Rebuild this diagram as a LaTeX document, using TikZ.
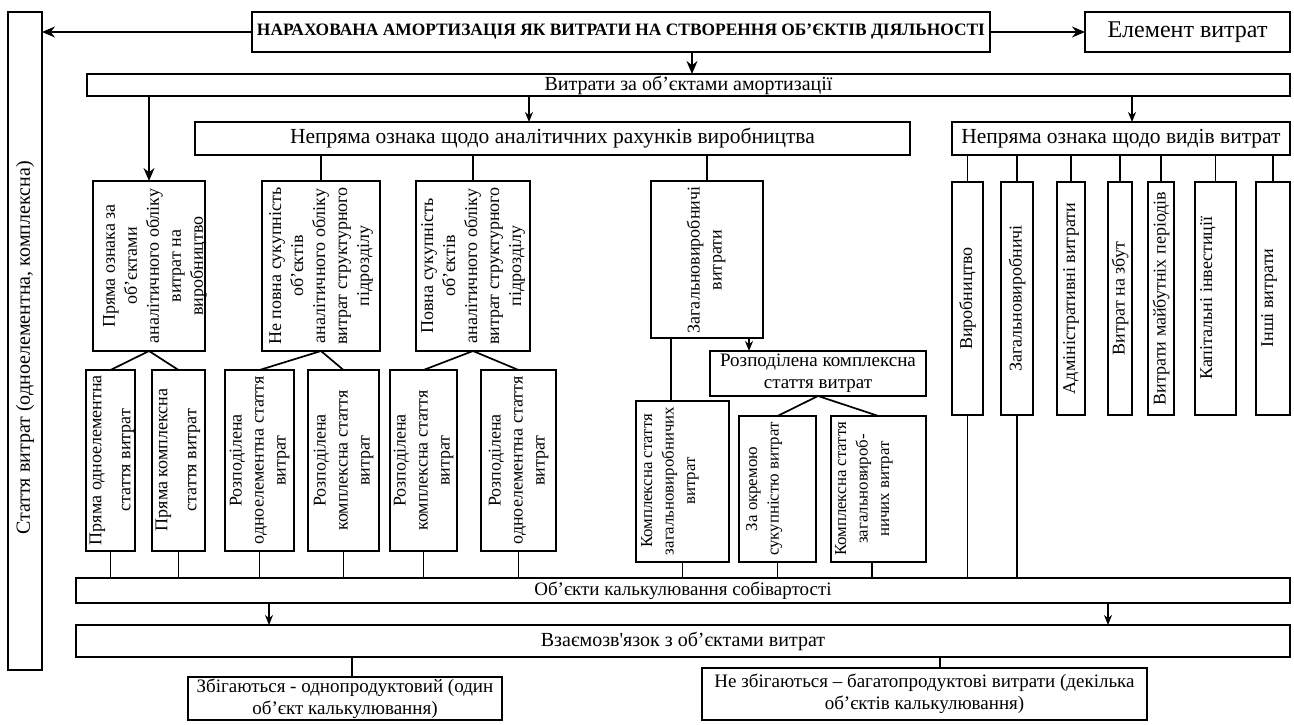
\documentclass[tikz,border=0pt]{standalone}
\usepackage{fontspec}
\newfontfamily\tnr{Liberation Serif}
\usetikzlibrary{arrows.meta}
\begin{document}
\begin{tikzpicture}[x=1pt,y=-1pt,
  box/.style={draw, line width=1.7pt, inner sep=0pt, outer sep=0pt, align=center, font=\tnr\fontsize{19}{22}\selectfont},
  bb/.style n args={4}{minimum width={#3-#1}, minimum height={#4-#2}, at={({(#1+#3)/2},{(#2+#4)/2})}},
  rtext/.style={rotate=90, inner sep=0pt, align=center, font=\tnr\fontsize{18}{22}\selectfont},
  ktext/.style={rtext, font=\tnr\fontsize{16.8}{21.5}\selectfont},
  conn/.style={line width=1.7pt},
  arr/.style={conn, -{Stealth[length=13pt,width=11pt]}},
  sarr/.style={conn, -{Stealth[length=10pt,width=8pt]}},
]
\useasboundingbox (0,0) rectangle (1294,724);
% --- top level
\node[box, bb={8}{12}{42}{670}] (stat) {};
\node[rtext, font=\tnr\fontsize{20}{22}\selectfont] (statt) at (25,348) {Стаття витрат (одноелементна, комплексна)};
\node[box, bb={252}{12}{990}{52}, font=\tnr\bfseries\fontsize{17.4}{20}\selectfont] (top) {НАРАХОВАНА АМОРТИЗАЦІЯ ЯК ВИТРАТИ НА СТВОРЕННЯ ОБ’ЄКТІВ ДІЯЛЬНОСТІ};
\node[box, bb={1085}{12}{1290}{52}, font=\tnr\fontsize{24}{26}\selectfont] (elem) {Елемент витрат};
\node[box, bb={87}{74}{1290}{96}, font=\tnr\fontsize{20}{22}\selectfont] (vytr) {Витрати за об’єктами амортизації};
\node[box, bb={195}{122}{910}{155}, font=\tnr\fontsize{21.5}{24}\selectfont] (nepr1) {Непряма ознака щодо аналітичних рахунків виробництва};
\node[box, bb={952}{122}{1290}{155}, font=\tnr\fontsize{21.5}{24}\selectfont] (nepr2) {Непряма ознака щодо видів витрат};
% --- second level (left part)
\node[box, bb={93}{181}{205}{351}] (pryama) {};
\node[rtext] (tpryama) at (155,266) {Пряма ознака за\\об’єктами\\аналітичного обліку\\витрат на\\виробництво};
\node[box, bb={262}{181}{380}{351}] (npovna) {};
\node[rtext] (tnpovna) at (npovna.center) {Не повна сукупність\\об’єктів\\аналітичного обліку\\витрат структурного\\підрозділу};
\node[box, bb={416}{181}{530}{351}] (povna) {};
\node[rtext] (tpovna) at (povna.center) {Повна сукупність\\об’єктів\\аналітичного обліку\\витрат структурного\\підрозділу};
\node[box, bb={651}{181}{763}{338}] (zag) {};
\node[rtext] (tzag) at (706,260) {Загальновиробничі\\витрати};
% --- third level
\node[box, bb={86}{370}{135}{551}] (s1) {};
\node[rtext] (ts1) at (112,460) {Пряма одноелементна\\[7pt]стаття витрат};
\node[box, bb={152}{370}{205}{551}] (s2) {};
\node[rtext] (ts2) at (178,460) {Пряма комплексна\\[7pt]стаття витрат};
\node[box, bb={225}{370}{294}{551}] (s3) {};
\node[rtext] (ts3) at (s3.center) {Розподілена\\одноелементна стаття\\витрат};
\node[box, bb={308}{370}{379}{551}] (s4) {};
\node[rtext] (ts4) at (s4.center) {Розподілена\\комплексна стаття\\витрат};
\node[box, bb={390}{370}{457}{551}] (s5) {};
\node[rtext] (ts5) at (s5.center) {Розподілена\\комплексна стаття\\витрат};
\node[box, bb={481}{370}{556}{551}] (s6) {};
\node[rtext] (ts6) at (s6.center) {Розподілена\\одноелементна стаття\\витрат};
\node[box, bb={710}{351}{926}{396}] (rozp) {Розподілена комплексна\\стаття витрат};
\node[box, bb={636}{401}{729}{562}] (k1) {};
\node[ktext] (tk1) at (670,481) {Комплексна стаття\\загальновиробничих\\витрат};
\node[box, bb={739}{416}{816}{562}] (k2) {};
\node[ktext] (tk2) at (764,489) {За окремою\\сукупністю витрат};
\node[box, bb={831}{416}{926}{562}] (k3) {};
\node[ktext] (tk3) at (864,489) {Комплексна стаття\\загальновироб-\\ничих витрат};
% --- right column
\node[box, bb={952}{182}{983}{415}] (r1) {};
\node[rtext] (tr1) at (r1.center) {Виробництво};
\node[box, bb={1001}{182}{1033}{415}] (r2) {};
\node[rtext] (tr2) at (r2.center) {Загальновиробничі};
\node[box, bb={1057}{182}{1085}{415}] (r3) {};
\node[rtext] (tr3) at (r3.center) {Адміністративні витрати};
\node[box, bb={1108}{182}{1132}{415}] (r4) {};
\node[rtext] (tr4) at (r4.center) {Витрат на збут};
\node[box, bb={1148}{182}{1174}{415}] (r5) {};
\node[rtext] (tr5) at (r5.center) {Витрати майбутніх періодів};
\node[box, bb={1195}{182}{1236}{415}] (r6) {};
\node[rtext] (tr6) at (1208,298) {Капітальні інвестиції};
\node[box, bb={1256}{182}{1290}{415}] (r7) {};
\node[rtext] (tr7) at (1269,298) {Інші витрати};
% --- bottom
\node[box, bb={76}{578}{1290}{603}] (obj) {Об’єкти калькулювання собівартості};
\node[box, bb={76}{625}{1290}{657}, font=\tnr\fontsize{20}{22}\selectfont] (vzaem) {Взаємозв'язок з об’єктами витрат};
\node[box, bb={188}{677}{502}{720}] (zb) {Збігаються - однопродуктовий (один\\об’єкт калькулювання)};
\node[box, bb={702}{668}{1147}{720}] (nzb) {Не збігаються – багатопродуктові витрати (декілька\\об’єктів калькулювання)};
% --- helper x positions
\coordinate (a1) at (692,0);
\coordinate (a2) at (529,0);
\coordinate (a3) at (1132,0);
\coordinate (a4) at (671,0);
\coordinate (a5) at (749,0);
\coordinate (a6) at (872,0);
\coordinate (a7) at (269,0);
\coordinate (a8) at (1108,0);
\coordinate (a9) at (352,0);
\coordinate (a10) at (940,0);
% --- connectors
\draw[arr] (top.west) -- (top.west -| stat.east);
\draw[arr] (top.east) -- (elem.west);
\draw[arr] (top.south -| a1) -- (vytr.north -| a1);
\draw[arr] (vytr.south -| pryama.north) -- (pryama.north);
\draw[sarr] (vytr.south -| a2) -- (nepr1.north -| a2);
\draw[sarr] (vytr.south -| a3) -- (nepr2.north -| a3);
\foreach \n in {npovna,povna,zag}
  \draw[conn] (nepr1.south -| \n.north) -- (\n.north);
\foreach \n in {r1,r2,r3,r4,r5,r6,r7}
  \draw[conn] (nepr2.south -| \n.north) -- (\n.north);
\draw[conn] (pryama.south) -- (s1.north);
\draw[conn] (pryama.south) -- (s2.north);
\draw[conn] (npovna.south) -- (s3.north);
\draw[conn] (npovna.south) -- (s4.north);
\draw[conn] (povna.south) -- (s5.north);
\draw[conn] (povna.south) -- (s6.north);
\draw[conn] (zag.south -| a4) -- (k1.north -| a4);
\draw[sarr] (zag.south -| a5) -- (rozp.north -| a5);
\draw[conn] (rozp.south) -- (k2.north);
\draw[conn] (rozp.south) -- (k3.north);
\foreach \n in {s1,s2,s3,s4,s5,s6,k1,k2,r1,r2}
  \draw[conn] (\n.south) -- (\n.south |- obj.north);
\draw[conn] (k3.south -| a6) -- (obj.north -| a6);
\draw[sarr] (obj.south -| a7) -- (vzaem.north -| a7);
\draw[sarr] (obj.south -| a8) -- (vzaem.north -| a8);
\draw[conn] (vzaem.south -| a9) -- (zb.north -| a9);
\draw[conn] (vzaem.south -| a10) -- (nzb.north -| a10);
\end{tikzpicture}
\end{document}
